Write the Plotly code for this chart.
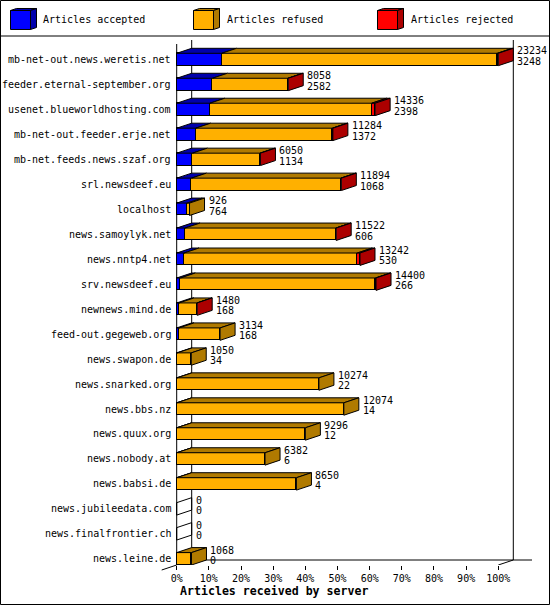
import plotly.graph_objects as go

# ---------------- data ----------------
servers = [
    "mb-net-out.news.weretis.net", "feeder.eternal-september.org",
    "usenet.blueworldhosting.com", "mb-net-out.feeder.erje.net",
    "mb-net.feeds.news.szaf.org", "srl.newsdeef.eu", "localhost",
    "news.samoylyk.net", "news.nntp4.net", "srv.newsdeef.eu",
    "newnews.mind.de", "feed-out.gegeweb.org", "news.swapon.de",
    "news.snarked.org", "news.bbs.nz", "news.quux.org", "news.nobody.at",
    "news.babsi.de", "news.jubileedata.com", "news.finalfrontier.ch",
    "news.leine.de",
]
total = [23234, 8058, 14336, 11284, 6050, 11894, 926, 11522, 13242, 14400,
         1480, 3134, 1050, 10274, 12074, 9296, 6382, 8650, 0, 0, 1068]
accepted = [3248, 2582, 2398, 1372, 1134, 1068, 764, 606, 530, 266,
            168, 168, 34, 22, 14, 12, 6, 4, 0, 0, 0]
rejected = [70, 30, 250, 40, 30, 30, 0, 30, 195, 40,
            20, 0, 0, 0, 0, 0, 0, 0, 0, 0, 0]
x_ticks = [0, 10, 20, 30, 40, 50, 60, 70, 80, 90, 100]
x_tick_labels = ["0%", "10%", "20%", "30%", "40%", "50%", "60%", "70%", "80%", "90%", "100%"]
legend_labels = ["Articles accepted", "Articles refused", "Articles rejected"]
x_title = "Articles received by server"

# ---------------- style / geometry ----------------
FONT = "DejaVu Sans Mono"
W, H = 550, 605
PL, PR, PT, PB = 160, 540, 38, 565
X0_PX, X100_PX = 176.7, 498.3
ROW0_PX, ROW_STEP = 59.5, 24.965
pxu = (X100_PX - X0_PX) / 100.0
xmin = -(X0_PX - PL) / pxu
xmax = xmin + (PR - PL) / pxu
ytop = -(ROW0_PX - PT) / ROW_STEP
ybot = ytop + (PB - PT) / ROW_STEP
DX = 15 / pxu
DY = 5 / ROW_STEP
HALF = 6.2 / ROW_STEP

cols = ["#0000FF", "#FFB000", "#FF0000"]
darks = ["#0000AC", "#B07A00", "#AC0000"]


def ydat(py):
    return ytop + (py - PT) / ROW_STEP


def xdat(px):
    return (px - X0_PX) / pxu


def px2paper(px, py):
    return (px - PL) / (PR - PL), 1 - (py - PT) / (PB - PT)


mx = max(total)
idx = list(range(len(servers)))
acc_p = [a / mx * 100 for a in accepted]
rej_p = [r / mx * 100 for r in rejected]
ref_p = [(t - a - r) / mx * 100 for t, a, r in zip(total, accepted, rejected)]
tot_p = [t / mx * 100 for t in total]

fig = go.Figure()

# front faces
for vals, c in zip([acc_p, ref_p, rej_p], cols):
    fig.add_trace(go.Bar(
        x=vals, y=idx, orientation="h", width=2 * HALF,
        marker=dict(color=c, line=dict(color="black", width=1)),
        hoverinfo="skip", showlegend=False))

# top faces and side faces
tops = [([], []) for _ in cols]
sides = [([], []) for _ in cols]
empty = ([], [])
for i in idx:
    segs = [acc_p[i], ref_p[i], rej_p[i]]
    s = 0.0
    last = None
    for k, v in enumerate(segs):
        if v <= 0:
            continue
        e = s + v
        tx, ty = tops[k]
        tx += [s, e, e + DX, s + DX, s, None]
        ty += [i - HALF, i - HALF, i - HALF - DY, i - HALF - DY, i - HALF, None]
        last = (k, e)
        s = e
    if last is None:
        ex, ey = empty
        ex += [0, DX, DX, 0, 0, None]
        ey += [i - HALF, i - HALF - DY, i + HALF - DY, i + HALF, i - HALF, None]
    else:
        k, e = last
        sx, sy = sides[k]
        sx += [e, e + DX, e + DX, e, e, None]
        sy += [i - HALF, i - HALF - DY, i + HALF - DY, i + HALF, i - HALF, None]

for k in range(3):
    for (px_, py_) in (tops[k], sides[k]):
        if px_:
            fig.add_trace(go.Scatter(
                x=px_, y=py_, mode="lines", fill="toself", fillcolor=darks[k],
                line=dict(color="black", width=1), hoverinfo="skip",
                showlegend=False))
fig.add_trace(go.Scatter(
    x=empty[0], y=empty[1], mode="lines", line=dict(color="black", width=1),
    hoverinfo="skip", showlegend=False))

ann = []
# category labels
for i, name in zip(idx, servers):
    ann.append(dict(x=0, y=i, text=name, xanchor="right", yanchor="middle",
                    xshift=-4, showarrow=False,
                    font=dict(family=FONT, size=10, color="black")))
# value labels
for i in idx:
    ann.append(dict(x=tot_p[i] + DX, y=i - 0.35, text=str(total[i]),
                    xanchor="left", yanchor="middle", xshift=2, showarrow=False,
                    font=dict(family=FONT, size=10, color="black")))
    ann.append(dict(x=tot_p[i] + DX, y=i + 0.07, text=str(accepted[i]),
                    xanchor="left", yanchor="middle", xshift=2, showarrow=False,
                    font=dict(family=FONT, size=10, color="black")))

# axis title
tx, ty = px2paper(178, 591)
ann.append(dict(x=tx, y=ty, xref="paper", yref="paper", text="<b>" + x_title + "</b>",
                xanchor="left", yanchor="middle", showarrow=False,
                font=dict(family=FONT, size=11.6, color="black")))

shapes = []
line = dict(color="black", width=1)
# frame
shapes.append(dict(type="line", x0=DX, x1=DX, y0=ydat(40), y1=ydat(560), line=line, layer="below"))
shapes.append(dict(type="line", x0=0, x1=0, y0=ydat(44), y1=ydat(565), line=line, layer="below"))
shapes.append(dict(type="line", x0=100 + DX, x1=100 + DX, y0=ydat(40), y1=ydat(560), line=line, layer="below"))
shapes.append(dict(type="line", x0=DX, x1=xdat(532), y0=ydat(560), y1=ydat(560), line=line, layer="below"))
shapes.append(dict(type="line", x0=100, x1=100 + DX, y0=ydat(565), y1=ydat(560), line=line, layer="below"))
shapes.append(dict(type="line", x0=-DX, x1=0, xref="x", yref="paper",
                   y0=px2paper(0, 570)[1], y1=px2paper(0, 565)[1], line=line))

# outer border + legend separator
bx0, by0 = px2paper(0.5, 0.5)
bx1, by1 = px2paper(549.5, 604.5)
shapes.append(dict(type="rect", xref="paper", yref="paper", x0=bx0, x1=bx1, y0=by0, y1=by1,
                   line=line))
sx0, sy0 = px2paper(0, 36)
sx1, _ = px2paper(550, 36)
shapes.append(dict(type="line", xref="paper", yref="paper", x0=sx0, x1=sx1, y0=sy0, y1=sy0,
                   line=line))


def P(pts):
    parts = []
    for j, (a, b) in enumerate(pts):
        xa, yb = px2paper(a, b)
        parts.append(("M" if j == 0 else "L") + f"{xa:.5f},{yb:.5f}")
    return " ".join(parts) + " Z"


# legend cubes
for k, (lx, lab) in enumerate(zip([10.5, 193.5, 377.5], legend_labels)):
    fl, fr, ft, fb = lx, lx + 20, 10.5, 29.5
    ddx, ddy = 6, 2
    shapes.append(dict(type="path", xref="paper", yref="paper",
                       path=P([(fl, ft), (fr, ft), (fr + ddx, ft - ddy), (fl + ddx, ft - ddy)]),
                       fillcolor=darks[k], line=line))
    shapes.append(dict(type="path", xref="paper", yref="paper",
                       path=P([(fr, ft), (fr + ddx, ft - ddy), (fr + ddx, fb - ddy), (fr, fb)]),
                       fillcolor=darks[k], line=line))
    shapes.append(dict(type="path", xref="paper", yref="paper",
                       path=P([(fl, ft), (fr, ft), (fr, fb), (fl, fb)]),
                       fillcolor=cols[k], line=line))
    ax_, ay_ = px2paper(lx + 31, 20)
    ann.append(dict(x=ax_, y=ay_, xref="paper", yref="paper", text=lab,
                    xanchor="left", yanchor="middle", showarrow=False,
                    font=dict(family=FONT, size=10, color="black")))

fig.update_layout(
    width=W, height=H, autosize=False,
    margin=dict(l=PL, r=W - PR, t=PT, b=H - PB, pad=0),
    barmode="stack", bargap=0,
    paper_bgcolor="white", plot_bgcolor="white",
    showlegend=False,
    xaxis=dict(range=[xmin, xmax], tickvals=x_ticks, ticktext=x_tick_labels,
               ticks="outside", ticklen=4, tickcolor="black", tickwidth=1,
               showgrid=False, zeroline=False, showline=False, fixedrange=True,
               tickfont=dict(family=FONT, size=10, color="black")),
    yaxis=dict(range=[ybot, ytop], showticklabels=False, showgrid=False,
               zeroline=False, showline=False, ticks="", fixedrange=True),
    annotations=ann, shapes=shapes,
)

fig.write_html(
    "out.html",
    config={"displayModeBar": False},
    post_script="document.body.style.margin='0';document.body.style.overflow='hidden';",
)
